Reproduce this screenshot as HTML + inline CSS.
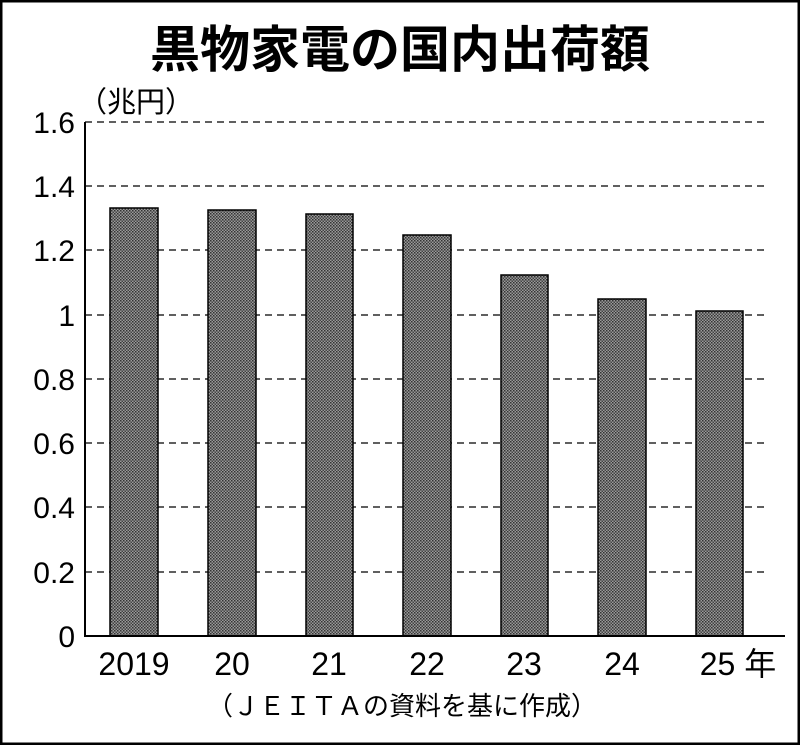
<!DOCTYPE html>
<html><head><meta charset="utf-8"><style>
body{margin:0;background:#fff}
svg{display:block}
text{font-family:"Liberation Sans","Noto Sans CJK JP",sans-serif;fill:#000}
</style></head><body>
<svg width="800" height="745" viewBox="0 0 800 745">
<defs><pattern id="p" width="3" height="3" patternUnits="userSpaceOnUse">
<rect width="3" height="3" fill="#9a9a9a"/><rect width="1.5" height="1.5" fill="#333"/><rect x="1.5" y="1.5" width="1.5" height="1.5" fill="#444"/></pattern></defs>
<rect x="1" y="1" width="798" height="743" fill="none" stroke="#000" stroke-width="3"/>
<text x="400" y="67" font-size="50" font-weight="bold" text-anchor="middle">黒物家電の国内出荷額</text>
<text x="78" y="112" font-size="29">（兆円）</text>
<g stroke="#000" stroke-width="1.3" stroke-dasharray="7,5">
<line x1="85" y1="122" x2="768" y2="122"/><line x1="85" y1="186" x2="768" y2="186"/>
<line x1="85" y1="250" x2="768" y2="250"/><line x1="85" y1="315" x2="768" y2="315"/>
<line x1="85" y1="379" x2="768" y2="379"/><line x1="85" y1="443" x2="768" y2="443"/>
<line x1="85" y1="507" x2="768" y2="507"/><line x1="85" y1="572" x2="768" y2="572"/>
</g>
<g font-size="30" text-anchor="end">
<text x="75" y="133">1.6</text><text x="75" y="197">1.4</text><text x="75" y="261">1.2</text>
<text x="75" y="326">1</text><text x="75" y="390">0.8</text><text x="75" y="454">0.6</text>
<text x="75" y="518">0.4</text><text x="75" y="583">0.2</text><text x="75" y="647">0</text>
</g>
<g fill="url(#p)" stroke="#000" stroke-width="1.5">
<rect x="110" y="208" width="48" height="428"/>
<rect x="208" y="210" width="48" height="426"/>
<rect x="306" y="214" width="47" height="422"/>
<rect x="403" y="235" width="48" height="401"/>
<rect x="501" y="275" width="47" height="361"/>
<rect x="598" y="299" width="48" height="337"/>
<rect x="696" y="311" width="47" height="325"/>
</g>
<polyline points="85,122 85,636 785,636" fill="none" stroke="#000" stroke-width="2"/>
<g font-size="32" text-anchor="middle">
<text x="134" y="675">2019</text><text x="232" y="675">20</text><text x="329" y="675">21</text>
<text x="427" y="675">22</text><text x="524" y="675">23</text><text x="622" y="675">24</text>
<text x="738" y="675">25 年</text>
</g>
<text x="402" y="715" font-size="26" text-anchor="middle">（ＪＥＩＴＡの資料を基に作成）</text>
</svg>
</body></html>
